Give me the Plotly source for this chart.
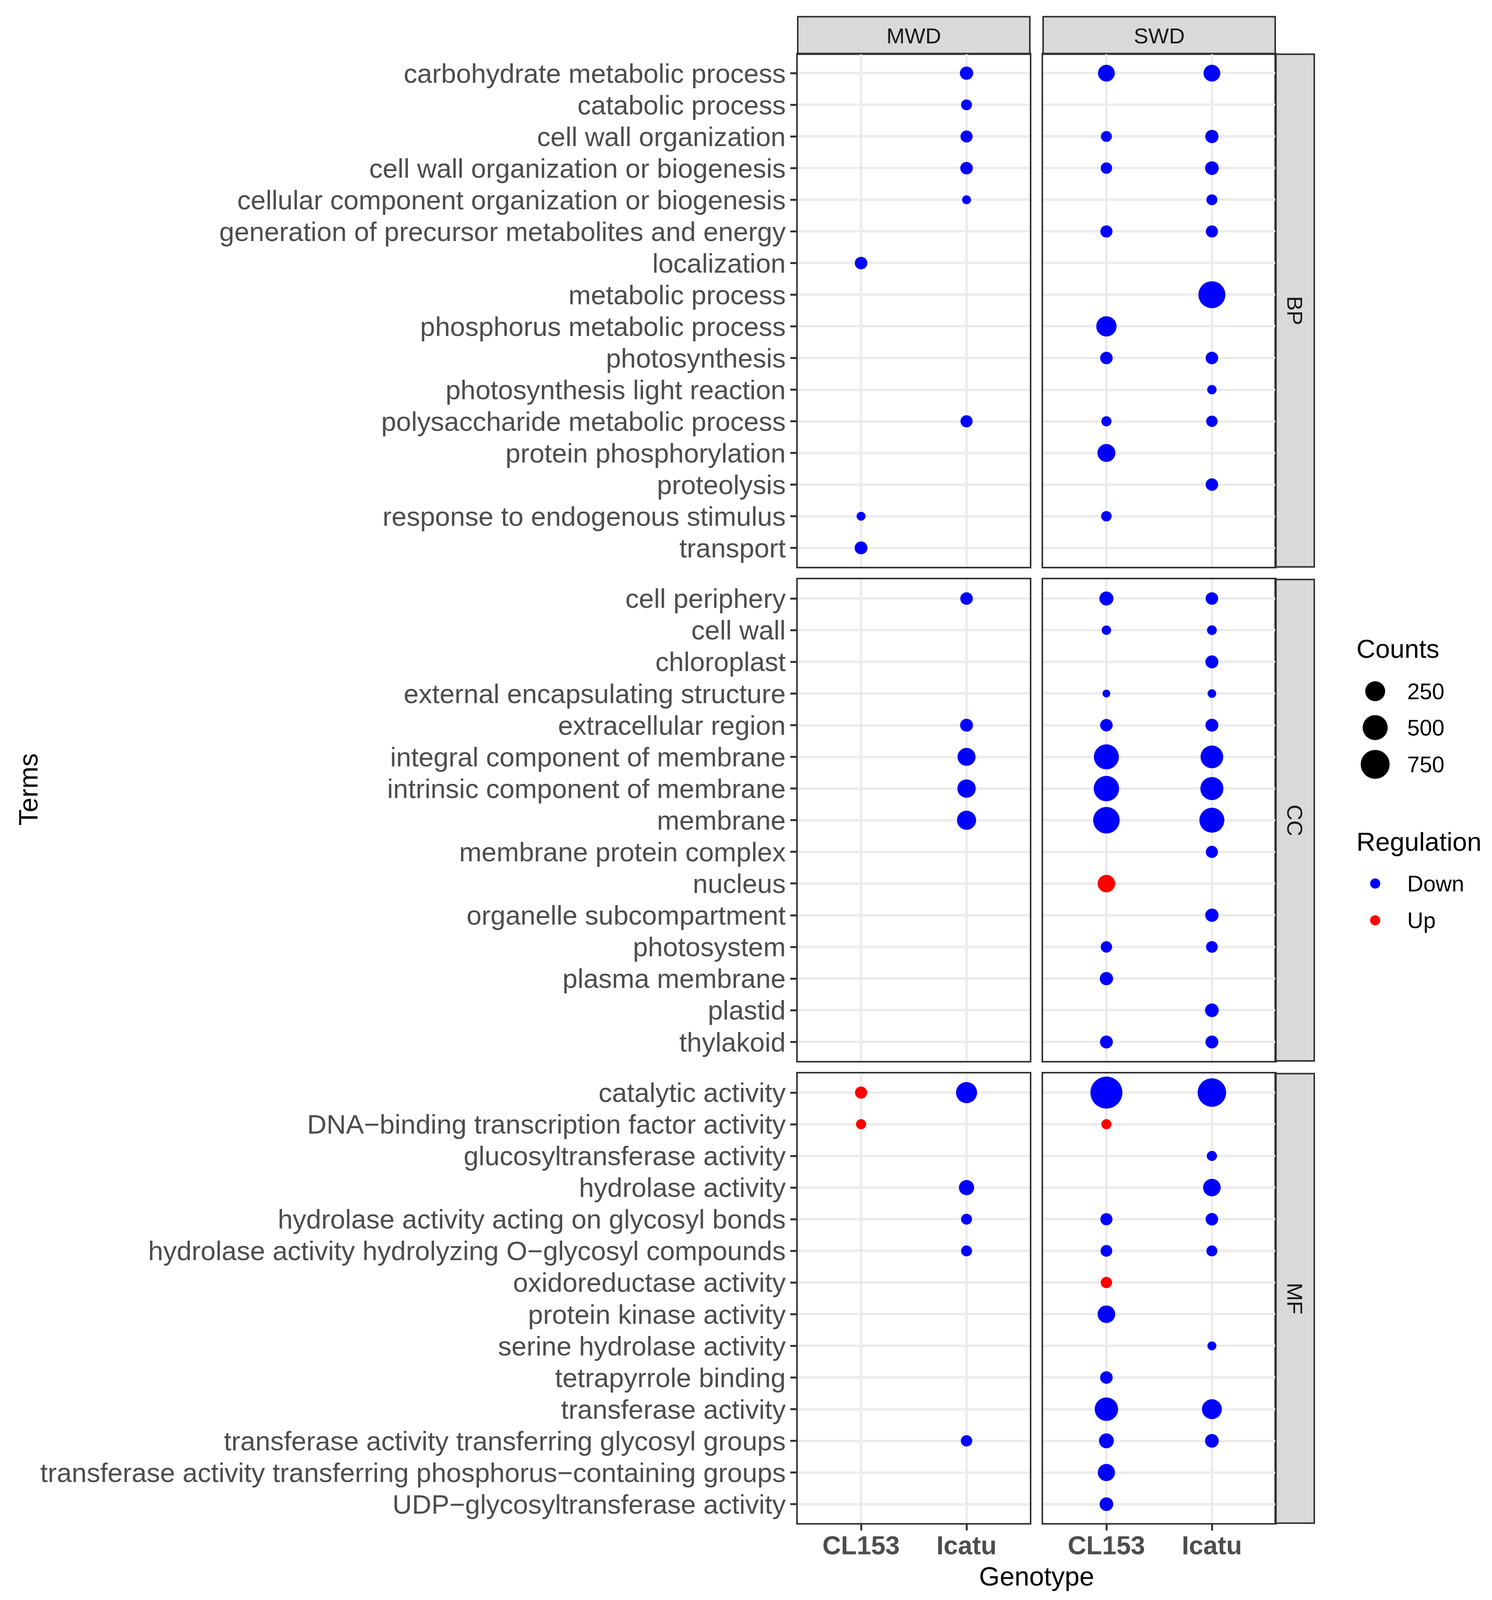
import math
import plotly.graph_objects as go

# ---------------- data ----------------
bp_terms = [
    "carbohydrate metabolic process", "catabolic process", "cell wall organization",
    "cell wall organization or biogenesis", "cellular component organization or biogenesis",
    "generation of precursor metabolites and energy", "localization", "metabolic process",
    "phosphorus metabolic process", "photosynthesis", "photosynthesis light reaction",
    "polysaccharide metabolic process", "protein phosphorylation", "proteolysis",
    "response to endogenous stimulus", "transport",
]
cc_terms = [
    "cell periphery", "cell wall", "chloroplast", "external encapsulating structure",
    "extracellular region", "integral component of membrane", "intrinsic component of membrane",
    "membrane", "membrane protein complex", "nucleus", "organelle subcompartment",
    "photosystem", "plasma membrane", "plastid", "thylakoid",
]
mf_terms = [
    "catalytic activity", "DNA\u2212binding transcription factor activity",
    "glucosyltransferase activity", "hydrolase activity",
    "hydrolase activity acting on glycosyl bonds",
    "hydrolase activity hydrolyzing O\u2212glycosyl compounds", "oxidoreductase activity",
    "protein kinase activity", "serine hydrolase activity", "tetrapyrrole binding",
    "transferase activity", "transferase activity transferring glycosyl groups",
    "transferase activity transferring phosphorus\u2212containing groups",
    "UDP\u2212glycosyltransferase activity",
]

# Counts per term (None = not enriched); order = bp_terms + cc_terms + mf_terms
mwd_cl153 = [None, None, None, None, None, None, 42, None, None, None, None, None, None, None, 7, 48,
             None, None, None, None, None, None, None, None, None, None, None, None, None, None, None,
             36, 14, None, None, None, None, None, None, None, None, None, None, None, None]
mwd_icatu = [55, 21, 36, 42, 7, None, None, None, None, None, None, 36, None, None, None, None,
             42, None, None, None, 48, 177, 191, 219, None, None, None, None, None, None, None,
             300, None, None, 97, 21, 21, None, None, None, None, None, 26, None, None]
swd_cl153 = [140, None, 21, 26, None, 36, None, None, 266, 42, None, 14, 177, None, 17, None,
             70, 9, None, 5, 42, 499, 521, 592, None, 164, None, 26, 55, None, 48,
             985, 14, None, None, 36, 30, 26, 164, None, 42, 413, 88, 152, 62]
swd_icatu = [140, None, 55, 62, 21, 36, None, 617, None, 42, 9, 26, None, 42, None, None,
             42, 11, 50, 6, 48, 373, 393, 499, 36, None, 55, 30, None, 62, 48,
             721, None, 14, 164, 42, 21, None, None, 7, None, 250, 62, None, None]

# Up-regulated terms (all other enriched terms are Down)
mwd_cl153_up = ["catalytic activity", "DNA\u2212binding transcription factor activity"]
mwd_icatu_up = []
swd_cl153_up = ["nucleus", "DNA\u2212binding transcription factor activity", "oxidoreductase activity"]
swd_icatu_up = []

treatments = ["MWD", "SWD"]
genotypes = ["CL153", "Icatu"]
ontologies = ["BP", "CC", "MF"]
size_breaks = [250, 500, 750]
regulations = ["Down", "Up"]

# ---------------- styling ----------------
W, H = 3819, 4310
FONT = "Liberation Sans"
COL = {"Down": "#0000FF", "Up": "#FF0000"}
DMIN, DMAX = 20, 82

all_terms = bp_terms + cc_terms + mf_terms
onto_terms = {"BP": bp_terms, "CC": cc_terms, "MF": mf_terms}
columns = {("MWD", "CL153"): (mwd_cl153, mwd_cl153_up), ("MWD", "Icatu"): (mwd_icatu, mwd_icatu_up),
           ("SWD", "CL153"): (swd_cl153, swd_cl153_up), ("SWD", "Icatu"): (swd_icatu, swd_icatu_up)}
vals = [v for c in (mwd_cl153, mwd_icatu, swd_cl153, swd_icatu) for v in c if v is not None]
vmin, vmax = min(vals), max(vals)


def dot_size(v):
    return DMIN + (DMAX - DMIN) * math.sqrt((v - vmin) / (vmax - vmin))


def px(x):
    return x / W


def py(y):
    return 1 - y / H


col_px = {"MWD": (2042, 2636), "SWD": (2670, 3264)}
row_px = {"BP": (146, 1527), "CC": (1561, 2858), "MF": (2892, 4103)}

fig = go.Figure()
layout = {}
annotations = []
shapes = []

for r, onto in enumerate(ontologies):
    terms = onto_terms[onto]
    n = len(terms)
    for c, trt in enumerate(treatments):
        idx = r * 2 + c + 1
        xa = "x" if idx == 1 else f"x{idx}"
        ya = "y" if idx == 1 else f"y{idx}"
        for reg in regulations:
            xs, ys, ss = [], [], []
            for gi, geno in enumerate(genotypes):
                counts, ups = columns[(trt, geno)]
                for ti, term in enumerate(terms):
                    v = counts[all_terms.index(term)]
                    if v is None:
                        continue
                    rg = "Up" if term in ups else "Down"
                    if rg != reg:
                        continue
                    xs.append(gi)
                    ys.append(ti)
                    ss.append(dot_size(v))
            if xs:
                fig.add_trace(go.Scatter(
                    x=xs, y=ys, mode="markers", xaxis=xa, yaxis=ya, showlegend=False,
                    marker=dict(size=ss, color=COL[reg], opacity=1, line=dict(width=0)),
                    cliponaxis=False, hoverinfo="skip"))
        x0, x1 = col_px[trt]
        y0, y1 = row_px[onto]
        bottom = r == len(ontologies) - 1
        left = c == 0
        layout[f"xaxis{idx if idx > 1 else ''}"] = dict(
            domain=[px(x0), px(x1)], anchor=ya, range=[-0.6, 1.6],
            tickmode="array", tickvals=[0, 1], ticktext=genotypes,
            showgrid=True, gridcolor="#EBEBEB", gridwidth=6, zeroline=False,
            showline=True, mirror=True, linecolor="#333333", linewidth=4,
            ticks="outside" if bottom else "", ticklen=15, tickwidth=5, tickcolor="#333333",
            showticklabels=bottom, ticklabelstandoff=-18,
            tickfont=dict(family=FONT, size=66, color="#4D4D4D", weight="bold"),
            fixedrange=True)
        layout[f"yaxis{idx if idx > 1 else ''}"] = dict(
            domain=[py(y1), py(y0)], anchor=xa, range=[n - 0.4, -0.6],
            tickmode="array", tickvals=list(range(n)), ticktext=terms,
            showgrid=True, gridcolor="#EBEBEB", gridwidth=6, zeroline=False,
            showline=True, mirror=True, linecolor="#333333", linewidth=4,
            ticks="outside" if left else "", ticklen=15, tickwidth=5, tickcolor="#333333",
            showticklabels=left, ticklabelstandoff=-2,
            tickfont=dict(family=FONT, size=69, color="#4D4D4D"),
            fixedrange=True)

# strips
for trt in treatments:
    x0, x1 = col_px[trt]
    shapes.append(dict(type="rect", xref="paper", yref="paper", x0=px(x0), x1=px(x1),
                       y0=py(146), y1=py(45), fillcolor="#D9D9D9",
                       line=dict(color="#333333", width=4), layer="below"))
    annotations.append(dict(text=trt, xref="paper", yref="paper", x=px((x0 + x1) / 2),
                            y=py(96), showarrow=False, xanchor="center", yanchor="middle",
                            font=dict(family=FONT, size=56, color="#1A1A1A")))
for onto in ontologies:
    y0, y1 = row_px[onto]
    shapes.append(dict(type="rect", xref="paper", yref="paper", x0=px(3264), x1=px(3364),
                       y0=py(y1), y1=py(y0), fillcolor="#D9D9D9",
                       line=dict(color="#333333", width=4), layer="below"))
    annotations.append(dict(text=onto, xref="paper", yref="paper", x=px(3314),
                            y=py((y0 + y1) / 2), showarrow=False, textangle=90,
                            xanchor="center", yanchor="middle",
                            font=dict(family=FONT, size=56, color="#1A1A1A")))

# axis titles (Genotype kept at a fixed pixel distance below the bottom panels)
annotations.append(dict(text="Genotype", xref="paper", yref="paper", x=px(2653),
                        y=py(row_px["MF"][1]), yshift=-(4239 - row_px["MF"][1]),
                        showarrow=False, xanchor="center", yanchor="middle",
                        font=dict(family=FONT, size=68, color="#000000")))
annotations.append(dict(text="Terms", xref="paper", yref="paper", x=px(72), y=py(2127),
                        showarrow=False, textangle=-90, xanchor="center", yanchor="middle",
                        font=dict(family=FONT, size=68, color="#000000")))

# legend (drawn on its own invisible axes)
LX0, LX1, LY0, LY1 = 3400, 3819, 1650, 2600
layout["xaxis7"] = dict(domain=[px(LX0), px(LX1)], range=[LX0, LX1], visible=False,
                        anchor="y7", fixedrange=True)
layout["yaxis7"] = dict(domain=[py(LY1), py(LY0)], range=[LY1, LY0], visible=False,
                        anchor="x7", fixedrange=True)
key_x = 3520
size_key_y = [1862, 1960, 2059]
reg_key_y = [2380, 2479]
fig.add_trace(go.Scatter(x=[key_x] * len(size_breaks), y=size_key_y, mode="markers",
                         xaxis="x7", yaxis="y7", showlegend=False, hoverinfo="skip",
                         cliponaxis=False,
                         marker=dict(size=[dot_size(b) for b in size_breaks], color="#000000",
                                     opacity=1, line=dict(width=0))))
fig.add_trace(go.Scatter(x=[key_x] * len(regulations), y=reg_key_y, mode="markers",
                         xaxis="x7", yaxis="y7", showlegend=False, hoverinfo="skip",
                         cliponaxis=False,
                         marker=dict(size=26, color=[COL[g] for g in regulations],
                                     opacity=1, line=dict(width=0))))
annotations.append(dict(text="Counts", xref="paper", yref="paper", x=px(3470), y=py(1747),
                        showarrow=False, xanchor="left", yanchor="middle",
                        font=dict(family=FONT, size=67, color="#000000")))
annotations.append(dict(text="Regulation", xref="paper", yref="paper", x=px(3470), y=py(2267),
                        showarrow=False, xanchor="left", yanchor="middle",
                        font=dict(family=FONT, size=67, color="#000000")))
for b, yk in zip(size_breaks, size_key_y):
    annotations.append(dict(text=str(b), xref="paper", yref="paper", x=px(3600), y=py(yk),
                            showarrow=False, xanchor="left", yanchor="middle",
                            font=dict(family=FONT, size=57, color="#000000")))
for g, yk in zip(regulations, reg_key_y):
    annotations.append(dict(text=g, xref="paper", yref="paper", x=px(3600), y=py(yk),
                            showarrow=False, xanchor="left", yanchor="middle",
                            font=dict(family=FONT, size=57, color="#000000")))

fig.update_layout(
    width=W, height=H, margin=dict(l=0, r=0, t=0, b=0, pad=0),
    paper_bgcolor="#FFFFFF", plot_bgcolor="rgba(0,0,0,0)",
    font=dict(family=FONT), showlegend=False,
    annotations=annotations, shapes=shapes, **layout)

# fit the figure to the visible browser viewport (layout is in relative coordinates)
fit_js = (
    "document.documentElement.style.margin='0';document.body.style.margin='0';"
    "document.documentElement.style.overflow='hidden';document.body.style.overflow='hidden';"
    "var gd=document.getElementById('{plot_id}');"
    "var w=window.innerWidth,h=window.innerHeight;"
    "if(w>0&&h>0){gd.style.width=w+'px';gd.style.height=h+'px';"
    "Plotly.relayout(gd,{width:w,height:h});}"
)

fig.write_html("out.html", config={"displayModeBar": False}, post_script=fit_js)
